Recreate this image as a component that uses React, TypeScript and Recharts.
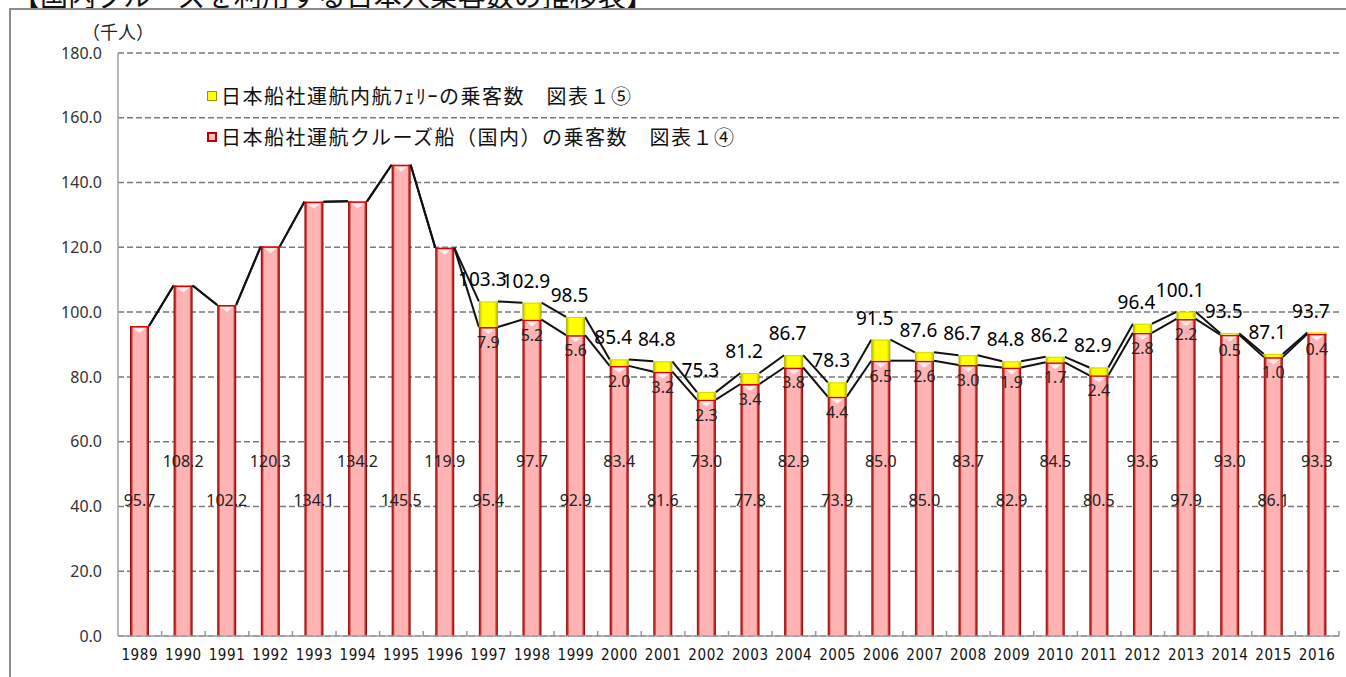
import React from 'react';
import { BarChart, Bar, XAxis, YAxis, CartesianGrid, Legend } from 'recharts';

const years = [
  '1989', '1990', '1991', '1992', '1993', '1994', '1995', '1996', '1997', '1998',
  '1999', '2000', '2001', '2002', '2003', '2004', '2005', '2006', '2007', '2008',
  '2009', '2010', '2011', '2012', '2013', '2014', '2015', '2016',
];

// 日本船社運航クルーズ船（国内）の乗客数（千人）
const cruise = [
  95.7, 108.2, 102.2, 120.3, 134.1, 134.2, 145.5, 119.9, 95.4, 97.7,
  92.9, 83.4, 81.6, 73.0, 77.8, 82.9, 73.9, 85.0, 85.0, 83.7,
  82.9, 84.5, 80.5, 93.6, 97.9, 93.0, 86.1, 93.3,
];

// 日本船社運航内航フェリーの乗客数（千人）
const ferry: (number | null)[] = [
  null, null, null, null, null, null, null, null, 7.9, 5.2,
  5.6, 2.0, 3.2, 2.3, 3.4, 3.8, 4.4, 6.5, 2.6, 3.0,
  1.9, 1.7, 2.4, 2.8, 2.2, 0.5, 1.0, 0.4,
];

const yTicks = [0, 20, 40, 60, 80, 100, 120, 140, 160, 180];

const legendNames = ['日本船社運航内航ﾌｪﾘｰの乗客数　図表１⑤', '日本船社運航クルーズ船（国内）の乗客数　図表１④'];

const total = (i: number) => Math.round((cruise[i] + (ferry[i] ?? 0)) * 10) / 10;

const data = years.map((year, i) => ({
  year,
  cruise: cruise[i],
  ferry: ferry[i],
}));

const W = 1346;
const H = 677;
const MARGIN = { top: 53, right: 7, bottom: 11, left: 0 };
const Y_AXIS_W = 118;
const BAND = (W - MARGIN.left - MARGIN.right - Y_AXIS_W) / years.length;

const JP = '"Noto Sans CJK JP", "Noto Sans", sans-serif';
const NUM = '"Noto Sans", "DejaVu Sans", sans-serif';

// cruise bar + the series lines joining bar tops (Excel style)
const CruiseShape = (props: any) => {
  const { x, y, width, height, index } = props;
  if (height == null || height <= 0) return null;
  const base = y + height;
  const k = height / cruise[index];
  const next = index + 1;
  const lowLabel = index % 2 === 0;
  const ly = base - (lowLabel ? 42 : 54) * k;
  return (
    <g>
      <rect x={x} y={y} width={width} height={height} fill="url(#pinkGrad)" />
      <line x1={x} x2={x + width} y1={y + 0.75} y2={y + 0.75} stroke="#e00000" strokeWidth={1.5} />
      <polygon
        points={`${x + 3},${y + 2} ${x + width - 3},${y + 2} ${x + width / 2},${y + 7}`}
        fill="#ffffff"
        opacity={0.75}
      />
      {next < years.length && (
        <g stroke="#111" strokeWidth={2} fill="none">
          <line x1={x + width} y1={base - total(index) * k} x2={x + BAND} y2={base - total(next) * k} />
          <line x1={x + width} y1={base - cruise[index] * k} x2={x + BAND} y2={base - cruise[next] * k} />
        </g>
      )}
      <text
        x={x + width / 2}
        y={ly}
        textAnchor="middle"
        dominantBaseline="central"
        fontFamily={NUM}
        fontSize={16}
        fill="#222"
      >
        {cruise[index].toFixed(1)}
      </text>
    </g>
  );
};

const FerryShape = (props: any) => {
  const { x, y, width, height, index } = props;
  const v = ferry[index];
  if (v == null || height == null) return null;
  return (
    <g>
      <rect x={x} y={y} width={width} height={Math.max(height, 1)} fill="url(#yellowGrad)" />
      <line x1={x} x2={x + width} y1={y + 0.5} y2={y + 0.5} stroke="#d8d800" strokeWidth={1} />
      <text
        x={x + width / 2}
        y={y + height + 15}
        textAnchor="middle"
        dominantBaseline="central"
        fontFamily={NUM}
        fontSize={16}
        fill="#222"
      >
        {v.toFixed(1)}
      </text>
      <text
        x={x + width / 2 - 6}
        y={y - 22}
        textAnchor="middle"
        dominantBaseline="central"
        fontFamily={NUM}
        fontSize={19}
        fill="#000"
      >
        {total(index).toFixed(1)}
      </text>
    </g>
  );
};

const YearTick = (props: any) => {
  const { x, y, payload } = props;
  return (
    <g>
      <line x1={x + BAND / 2} x2={x + BAND / 2} y1={y - 5} y2={y} stroke="#999" strokeWidth={1.5} />
      <text
        x={x}
        y={y + 19}
        textAnchor="middle"
        dominantBaseline="central"
        fontFamily={'"Liberation Sans Narrow", "DejaVu Sans Condensed", sans-serif'}
        fontSize={15}
        letterSpacing={0.6}
        fill="#111"
      >
        {payload.value}
      </text>
    </g>
  );
};

const LegendBox = () => (
  <div style={{ fontFamily: JP, fontSize: 20, letterSpacing: 1.5, color: '#111', lineHeight: '24px' }}>
    <div style={{ display: 'flex', alignItems: 'center', height: 24 }}>
      <span
        style={{
          display: 'inline-block', width: 8, height: 8, marginRight: 4,
          background: '#ffff00', border: '1px solid #9a9a00',
        }}
      />
      {legendNames[0]}
    </div>
    <div style={{ display: 'flex', alignItems: 'center', height: 24, marginTop: 17 }}>
      <span
        style={{
          display: 'inline-block', width: 6, height: 6, marginRight: 4,
          background: '#ffc0c0', border: '2px solid #c00000',
        }}
      />
      {legendNames[1]}
    </div>
  </div>
);

export default function App() {
  return (
    <div
      style={{
        position: 'absolute', left: 0, top: 0, width: W, height: H,
        overflow: 'hidden', background: '#fff',
      }}
    >
      <div
        style={{
          position: 'absolute', left: 12, top: -20, fontFamily: JP, fontSize: 28,
          whiteSpace: 'nowrap', color: '#111', lineHeight: '30px',
        }}
      >
        【国内クルーズを利用する日本人乗客数の推移表】
      </div>
      <div
        style={{
          position: 'absolute', left: 9, top: 8, width: 1400, height: 700,
          border: '2px solid #8c8c8c',
        }}
      />
      <div
        style={{
          position: 'absolute', left: 82, top: 20, fontFamily: JP, fontSize: 18,
          color: '#222', whiteSpace: 'nowrap', lineHeight: '22px',
        }}
      >
        （千人）
      </div>
      <div style={{ position: 'absolute', left: 0, top: 0 }}>
        <BarChart width={W} height={H} data={data} margin={MARGIN} barSize={19}>
          <defs>
            <linearGradient id="pinkGrad" x1="0" y1="0" x2="1" y2="0">
              <stop offset="0" stopColor="#8e0000" />
              <stop offset="0.1" stopColor="#c83a3a" />
              <stop offset="0.17" stopColor="#ffb3b3" />
              <stop offset="0.83" stopColor="#ffb3b3" />
              <stop offset="0.9" stopColor="#c83a3a" />
              <stop offset="1" stopColor="#7e0000" />
            </linearGradient>
            <linearGradient id="yellowGrad" x1="0" y1="0" x2="1" y2="0">
              <stop offset="0" stopColor="#a4a400" />
              <stop offset="0.12" stopColor="#e6e600" />
              <stop offset="0.2" stopColor="#ffff00" />
              <stop offset="0.8" stopColor="#ffff00" />
              <stop offset="0.88" stopColor="#e6e600" />
              <stop offset="1" stopColor="#a4a400" />
            </linearGradient>
          </defs>
          <CartesianGrid vertical={false} stroke="#7a7a7a" strokeDasharray="6 3" strokeWidth={1.5} />
          <XAxis
            dataKey="year"
            height={30}
            interval={0}
            tickLine={false}
            tickSize={0}
            tickMargin={0}
            axisLine={{ stroke: '#a0a0a0', strokeWidth: 1.5 }}
            tick={<YearTick />}
          />
          <YAxis
            width={Y_AXIS_W}
            domain={[0, 180]}
            ticks={yTicks}
            interval={0}
            tickLine={false}
            tickSize={0}
            tickMargin={16}
            tickFormatter={(v: number) => v.toFixed(1)}
            tick={{ fontFamily: NUM, fontSize: 16, fill: '#333' }}
            axisLine={{ stroke: '#a0a0a0', strokeWidth: 1.5 }}
          />
          <Legend
            layout="horizontal"
            verticalAlign="middle"
            align="center"
            content={<LegendBox />}
            wrapperStyle={{ position: 'absolute', left: 207, top: 84, width: 600 }}
          />
          <Bar dataKey="cruise" stackId="a" fill="#ffb3b3" shape={<CruiseShape />} isAnimationActive={false} />
          <Bar dataKey="ferry" stackId="a" fill="#ffff00" shape={<FerryShape />} isAnimationActive={false} />
        </BarChart>
      </div>
    </div>
  );
}
